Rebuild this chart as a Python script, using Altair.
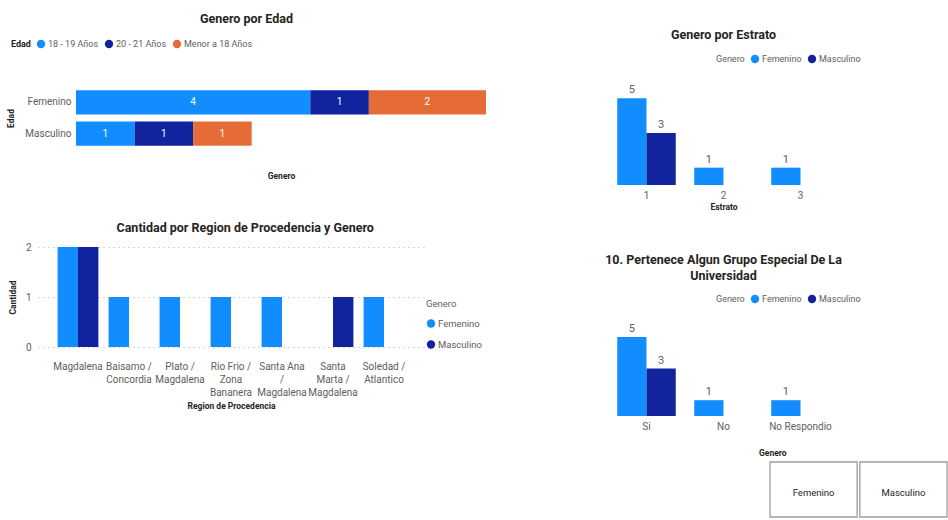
import altair as alt
import pandas as pd

# ---------------- data ----------------
generos = ["Femenino", "Masculino"]
colores_genero = ["#118DFF", "#12239E"]

edad_grupos = ["18 - 19 Años", "20 - 21 Años", "Menor a 18 Años"]
edad_colores = ["#118DFF", "#12239E", "#E66C37"]
edad_fem = [4, 1, 2]
edad_mas = [1, 1, 1]

regiones = ["Magdalena", "Baisamo /\nConcordia", "Plato /\nMagdalena",
            "Rio Frio /\nZona\nBananera", "Santa Ana\n/\nMagdalena",
            "Santa\nMarta /\nMagdalena", "Soledad /\nAtlantico"]
region_fem = [2, 1, 1, 1, 1, 0, 1]
region_mas = [2, 0, 0, 0, 0, 1, 0]
cantidad_ticks = [0, 1, 2]

estratos = ["1", "2", "3"]
estrato_fem = [5, 1, 1]
estrato_mas = [3, 0, 0]

grupo_cats = ["Si", "No", "No Respondio"]
grupo_fem = [5, 1, 1]
grupo_mas = [3, 0, 0]

# ---------------- styles ----------------
TF = "Roboto, sans-serif"
LF = "Roboto, sans-serif"
TITLE_C = "#252423"
LABEL_C = "#605E5C"


def title(text, **kw):
    base = dict(text=text, font=TF, fontSize=12.5, fontWeight="bold", color=TITLE_C,
                anchor="middle", offset=10)
    base.update(kw)
    return alt.TitleParams(**base)


def legend(**kw):
    base = dict(orient="none", direction="horizontal", titleOrient="left", symbolType="circle",
                symbolSize=70, labelFont=LF, labelFontSize=9, labelColor=LABEL_C,
                titleFont=LF, titleFontSize=9, titleColor=LABEL_C, titleFontWeight="normal",
                labelOffset=2, columnPadding=5, titlePadding=5)
    base.update(kw)
    return alt.Legend(**base)


# ---------------- Genero por Edad ----------------
df1 = pd.DataFrame({
    "genero": ["Femenino"] * 3 + ["Masculino"] * 3,
    "edad": edad_grupos * 2,
    "orden": [0, 1, 2] * 2,
    "valor": edad_fem + edad_mas,
})
base1 = alt.Chart(df1).transform_stack(
    stack="valor", groupby=["genero"], as_=["x0", "x1"], sort=[alt.SortField("orden")]
).transform_calculate(xm="(datum.x0 + datum.x1) / 2")

y1 = alt.Y("genero:N", sort=generos, title="Edad",
           scale=alt.Scale(paddingInner=0.22, paddingOuter=0.3),
           axis=alt.Axis(domain=False, ticks=False, labelPadding=5, titlePadding=9, offset=-38,
                         labelFont=LF, labelFontSize=10, labelColor=LABEL_C,
                         titleFont=LF, titleFontSize=8.5, titleColor=TITLE_C))
x1 = alt.X("x0:Q", title="Genero", scale=alt.Scale(domain=[0, 7], nice=False, range=[38, 448]),
           axis=alt.Axis(labels=False, ticks=False, domain=False, grid=False, titlePadding=16,
                         titleFont=LF, titleFontSize=8.5, titleColor=TITLE_C))
bars1 = base1.mark_bar().encode(
    y=y1, x=x1, x2="x1:Q",
    color=alt.Color("edad:N", title="Edad", scale=alt.Scale(domain=edad_grupos, range=edad_colores),
                    legend=legend(legendX=-27, legendY=-42, titleFontWeight="bold", titleColor=TITLE_C)),
)
text1 = base1.mark_text(color="white", font=LF, fontSize=10).encode(
    y=alt.Y("genero:N", sort=generos), x="xm:Q", text="valor:Q")
c1 = alt.layer(bars1, text1).properties(
    width=448, height=74, title=title("Genero por Edad", frame="bounds", offset=14))

# ---------------- Cantidad por Region ----------------
df2 = pd.DataFrame({
    "region": regiones * 2,
    "genero": ["Femenino"] * 7 + ["Masculino"] * 7,
    "valor": region_fem + region_mas,
})
df2 = df2[df2["valor"] > 0]
c2 = alt.Chart(df2).mark_bar().encode(
    x=alt.X("region:N", sort=regiones, title="Region de Procedencia",
            scale=alt.Scale(paddingInner=0.2, paddingOuter=0.384),
            axis=alt.Axis(labelAngle=0, labelExpr="split(datum.label, '\\n')", labelLineHeight=13,
                          domain=False, ticks=False, labelPadding=14, titlePadding=4,
                          labelFont=LF, labelFontSize=10, labelColor=LABEL_C,
                          titleFont=LF, titleFontSize=8.5, titleColor=TITLE_C)),
    xOffset=alt.XOffset("genero:N", sort=generos, scale=alt.Scale(domain=generos)),
    y=alt.Y("valor:Q", title="Cantidad", scale=alt.Scale(domain=[0, 2], nice=False),
            axis=alt.Axis(values=cantidad_ticks, format=".0f", labelOverlap=False,
                          grid=True, gridDash=[1, 4], gridColor="#B3B0AD",
                          domain=False, ticks=False, labelPadding=7, titlePadding=8,
                          labelFont=LF, labelFontSize=10, labelColor=LABEL_C,
                          titleFont=LF, titleFontSize=8.5, titleColor=TITLE_C)),
    color=alt.Color("genero:N", title="Genero", scale=alt.Scale(domain=generos, range=colores_genero),
                    legend=legend(legendX=388, legendY=52, direction="vertical", titleOrient="top",
                                  rowPadding=11, titlePadding=10, titleFontSize=9.5,
                                  labelFontSize=9.5)),
).properties(width=386, height=100,
             title=title("Cantidad por Region de Procedencia y Genero", frame="bounds", offset=8))


# ---------------- column charts ----------------
def columnas(cats, fem, mas, xtitle, h, ymax, ttl, legend_y):
    df = pd.DataFrame({
        "cat": cats * 2,
        "genero": ["Femenino"] * len(cats) + ["Masculino"] * len(cats),
        "valor": fem + mas,
    })
    df = df[df["valor"] > 0]
    axis = alt.Axis(labelAngle=0, domain=False, ticks=False, labelPadding=5, titlePadding=2,
                    labelFont=LF, labelFontSize=10, labelColor=LABEL_C,
                    titleFont=LF, titleFontSize=8.5, titleColor=TITLE_C)
    base = alt.Chart(df).encode(
        x=alt.X("cat:N", sort=cats, title=xtitle,
                scale=alt.Scale(paddingInner=0.24, paddingOuter=0.12), axis=axis),
        xOffset=alt.XOffset("genero:N", sort=generos, scale=alt.Scale(domain=generos)),
        y=alt.Y("valor:Q", scale=alt.Scale(domain=[0, ymax], nice=False), axis=None),
    )
    bars = base.mark_bar().encode(
        color=alt.Color("genero:N", title="Genero", scale=alt.Scale(domain=generos, range=colores_genero),
                        legend=legend(legendX=108, legendY=legend_y)))
    txt = base.mark_text(dy=-8, font=LF, fontSize=11, color=LABEL_C).encode(text="valor:Q")
    return alt.layer(bars, txt).properties(width=231, height=h, title=ttl)


c3 = columnas(estratos, estrato_fem, estrato_mas, "Estrato", 104, 6,
              title("Genero por Estrato", frame="group", offset=13), -27)
c4 = columnas(grupo_cats, grupo_fem, grupo_mas, None, 79, 5,
              title(["10. Pertenece Algun Grupo Especial De La", "Universidad"], lineHeight=16,
                    frame="group", offset=12), -43)

# ---------------- slicer ----------------
df5 = pd.DataFrame({"genero": generos, "fila": ["Genero"] * 2})
rect5 = alt.Chart(df5).mark_rect(fill="white", stroke="#9E9E9E", strokeWidth=1.3).encode(
    x=alt.X("genero:N", sort=generos, axis=None,
            scale=alt.Scale(range=[162, 339], paddingInner=0.03, paddingOuter=0)),
    y=alt.Y("fila:N", axis=None, scale=alt.Scale(paddingInner=0, paddingOuter=0)),
)
text5 = rect5.mark_text(font=LF, fontSize=9.5, color=TITLE_C, dy=3, stroke=None).encode(text="genero:N")
c5 = alt.layer(rect5, text5).properties(
    width=339, height=55,
    title=alt.TitleParams("Genero", anchor="start", dx=151, font=TF, fontSize=8.5, fontWeight="bold",
                          color=TITLE_C, offset=4))

# ---------------- layout ----------------
left = alt.vconcat(c1, c2, spacing=41).resolve_scale(
    color="independent", xOffset="independent").resolve_legend(color="independent")
inner = alt.vconcat(c4, c5, spacing=17).resolve_scale(
    color="independent", xOffset="independent").resolve_legend(color="independent")
right = alt.vconcat(c3, inner, spacing=42).resolve_scale(
    color="independent", xOffset="independent").resolve_legend(color="independent")

chart = alt.hconcat(left, right, spacing=119).resolve_scale(
    color="independent", xOffset="independent").resolve_legend(color="independent").configure_view(
    stroke=None).properties(
    padding={"left": 6, "top": 12, "right": 0, "bottom": 0}, background="white")

chart.save("out.html", embed_options={"renderer": "svg", "actions": False})
